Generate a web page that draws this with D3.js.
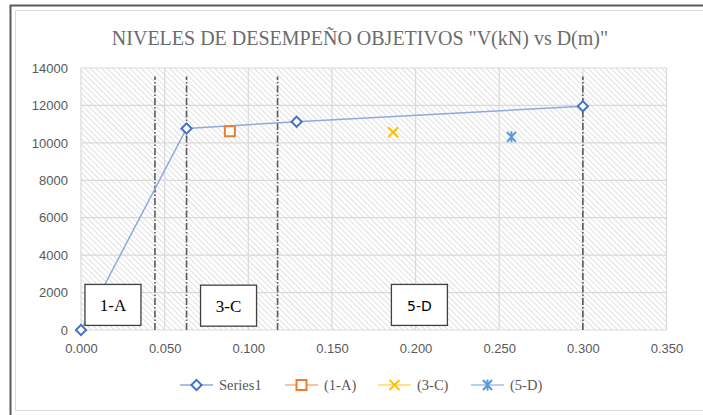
<!DOCTYPE html>
<html>
<head>
<meta charset="utf-8">
<script src="https://cdn.jsdelivr.net/npm/d3@7"></script>
<style>
  html, body { margin: 0; padding: 0; background: #fff; }
  svg { display: block; }
</style>
</head>
<body>
<svg id="chart" width="703" height="415"></svg>
<script>
// Capacity curve V(kN) vs D(m)
const seriesX = [0.000, 0.0631, 0.1289, 0.300];
const seriesY = [0, 10770, 11130, 11960];

// Performance-level points
const levelNames = ["(1-A)", "(3-C)", "(5-D)"];
const levelX = [0.0890, 0.1866, 0.2573];
const levelY = [10620, 10570, 10320];

// Dash-dot reference lines (displacement limits)
const limitX = [0.0442, 0.0631, 0.1175, 0.300];
const limitTop = 13550;

// Region labels
const regionNames = ["1-A", "3-C", "5-D"];
const regionX = [0.0191, 0.0882, 0.2023];
const regionY = [1340, 1300, 1340];

const xTicks = [0, 0.05, 0.10, 0.15, 0.20, 0.25, 0.30, 0.35];
const yTicks = [0, 2000, 4000, 6000, 8000, 10000, 12000, 14000];

const svg = d3.select("#chart");
const W = 703, H = 415;
const plot = { left: 81, right: 666.5, top: 68, bottom: 330 };

const x = d3.scaleLinear().domain([0, 0.35]).range([plot.left, plot.right]);
const y = d3.scaleLinear().domain([0, 14000]).range([plot.bottom, plot.top]);

// Chart frame
svg.append("rect").attr("x", 15.5).attr("y", 10.5).attr("width", 720).attr("height", 400)
  .attr("fill", "#fff").attr("stroke", "#d9d9d9").attr("stroke-width", 1);
svg.append("path").attr("d", `M10.5,${H} V5.5 H${W}`)
  .attr("fill", "none").attr("stroke", "#5a5a5a").attr("stroke-width", 2);

// Hatch fill for plot area
const defs = svg.append("defs");
const pat = defs.append("pattern").attr("id", "hatch")
  .attr("patternUnits", "userSpaceOnUse").attr("width", 4).attr("height", 4)
  .attr("patternTransform", "rotate(45)");
pat.append("rect").attr("width", 4).attr("height", 4).attr("fill", "#fff");
pat.append("line").attr("x1", 0).attr("y1", 0).attr("x2", 4).attr("y2", 0)
  .attr("stroke", "#cfcfcf").attr("stroke-width", 1.3);

svg.append("rect").attr("x", plot.left).attr("y", plot.top)
  .attr("width", plot.right - plot.left).attr("height", plot.bottom - plot.top)
  .attr("fill", "url(#hatch)");

// Gridlines
const grid = svg.append("g");
grid.selectAll(".gy").data(yTicks).join("line")
  .attr("x1", plot.left).attr("x2", plot.right)
  .attr("y1", d => y(d)).attr("y2", d => y(d))
  .attr("stroke", "#d9d9d9").attr("stroke-width", 1.2);
grid.selectAll(".gx").data(xTicks).join("line")
  .attr("y1", plot.top).attr("y2", plot.bottom)
  .attr("x1", d => x(d)).attr("x2", d => x(d))
  .attr("stroke", "#d9d9d9").attr("stroke-width", 1.2);

// Axes (labels only)
const yAxis = d3.axisLeft(y).tickValues(yTicks).tickFormat(d3.format("d")).tickSize(0).tickPadding(13);
const gy = svg.append("g").attr("transform", `translate(${plot.left},0)`).call(yAxis);
gy.select(".domain").remove();
gy.selectAll("text").attr("font-family", "Liberation Sans, Arial, sans-serif")
  .attr("font-size", 13).attr("fill", "#595959");

const xAxis = d3.axisBottom(x).tickValues(xTicks).tickFormat(d3.format(".3f")).tickSize(0).tickPadding(14);
const gx = svg.append("g").attr("transform", `translate(0,${plot.bottom})`).call(xAxis);
gx.select(".domain").remove();
gx.selectAll("text").attr("font-family", "Liberation Sans, Arial, sans-serif")
  .attr("font-size", 13).attr("fill", "#595959");

// Dash-dot limit lines
svg.append("g").selectAll("line").data(limitX).join("line")
  .attr("x1", d => x(d)).attr("x2", d => x(d))
  .attr("y1", y(0)).attr("y2", y(limitTop))
  .attr("stroke", "#595959").attr("stroke-width", 1.6)
  .attr("stroke-dasharray", "7,2,1.5,2");

// Capacity curve
const pts = seriesX.map((v, i) => [v, seriesY[i]]);
svg.append("path").datum(pts)
  .attr("d", d3.line().x(d => x(d[0])).y(d => y(d[1])))
  .attr("fill", "none").attr("stroke", "#8eaadb").attr("stroke-width", 1.5);

// Marker helpers
const colors = { s1: "#4472c4", a: "#ed7d31", c: "#ffc000", d: "#5b9bd5" };
function diamond(g, cx, cy) {
  g.append("path").attr("d", d3.symbol(d3.symbolSquare, 52)())
    .attr("transform", `translate(${cx},${cy}) rotate(45)`)
    .attr("fill", "#fff").attr("stroke", colors.s1).attr("stroke-width", 2);
}
function square(g, cx, cy) {
  g.append("rect").attr("x", cx - 5).attr("y", cy - 5).attr("width", 10).attr("height", 10)
    .attr("fill", "#fff").attr("stroke", colors.a).attr("stroke-width", 2);
}
function cross(g, cx, cy) {
  g.append("path").attr("d", `M${cx-5},${cy-5}L${cx+5},${cy+5}M${cx-5},${cy+5}L${cx+5},${cy-5}`)
    .attr("stroke", colors.c).attr("stroke-width", 2).attr("fill", "none");
}
function star(g, cx, cy) {
  g.append("path").attr("d", `M${cx-4.5},${cy-5}L${cx+4.5},${cy+5}M${cx-4.5},${cy+5}L${cx+4.5},${cy-5}M${cx},${cy-5.5}L${cx},${cy+5.5}`)
    .attr("stroke", colors.d).attr("stroke-width", 2).attr("fill", "none");
}
const markerFns = [square, cross, star];

// Region label boxes
const lab = svg.append("g");
regionNames.forEach((name, i) => {
  const cx = x(regionX[i]), cy = y(regionY[i]);
  lab.append("rect").attr("x", cx - 28).attr("y", cy - 20.5).attr("width", 56).attr("height", 41)
    .attr("fill", "#fff").attr("stroke", "#404040").attr("stroke-width", 1.3);
  lab.append("text").attr("x", cx).attr("y", cy + 6).attr("text-anchor", "middle")
    .attr("font-family", i < 2 ? "Liberation Serif, Times New Roman, serif" : "DejaVu Sans, Verdana, sans-serif")
    .attr("font-size", i < 2 ? 17 : 14).attr("fill", "#000").text(name);
});

// Markers on top
const mk = svg.append("g");
pts.forEach(p => diamond(mk, x(p[0]), y(p[1])));
levelX.forEach((v, i) => markerFns[i](mk, x(v), y(levelY[i])));

// Title
svg.append("text").attr("x", 360).attr("y", 45).attr("text-anchor", "middle")
  .attr("font-family", "Liberation Serif, Times New Roman, serif")
  .attr("font-size", 20).attr("fill", "#6b6b6b")
  .text('NIVELES DE DESEMPEÑO OBJETIVOS "V(kN) vs D(m)"');

// Legend
const legendItems = [
  { name: "Series1", line: "#8eaadb", x0: 180, fn: diamond },
  { name: levelNames[0], line: "#f4b183", x0: 285, fn: square },
  { name: levelNames[1], line: "#ffd966", x0: 378, fn: cross },
  { name: levelNames[2], line: "#9dc3e6", x0: 471, fn: star }
];
const ly = 385;
const lg = svg.append("g");
legendItems.forEach(it => {
  lg.append("line").attr("x1", it.x0).attr("x2", it.x0 + 33).attr("y1", ly).attr("y2", ly)
    .attr("stroke", it.line).attr("stroke-width", 1.5);
  it.fn(lg, it.x0 + 16.5, ly);
  lg.append("text").attr("x", it.x0 + 39).attr("y", ly + 5)
    .attr("font-family", "Liberation Serif, Times New Roman, serif")
    .attr("font-size", 14.5).attr("fill", "#595959").text(it.name);
});
</script>
</body>
</html>
